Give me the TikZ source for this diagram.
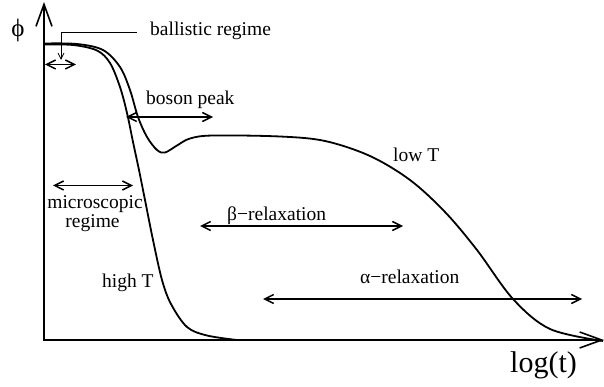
\documentclass[tikz,border=0pt]{standalone}
\usepackage{fontspec}
\setmainfont{Liberation Serif}
\usetikzlibrary{arrows.meta}
\begin{document}
\begin{tikzpicture}[x=1pt,y=-1pt,
  lbl/.style={font=\fontsize{19.5}{20}\selectfont, inner sep=0pt, anchor=base west},
  axisline/.style={line width=2pt, {Straight Barb[length=22pt,width=16pt,line width=1.6pt]}-{Straight Barb[length=22pt,width=16pt,line width=1.6pt]}},
  curve/.style={line width=1.8pt, line join=round},
  span/.style={line width=1.5pt, {Straight Barb[length=9pt,width=9pt]}-{Straight Barb[length=9pt,width=9pt]}},
  leader/.style={line width=0.8pt, -{Straight Barb[length=6pt,width=6pt]}}
]
\useasboundingbox (0,0) rectangle (604,387);
% axes
\coordinate (origin) at (44,340);
\coordinate (ytop) at (44,2);
\coordinate (xend) at (604,340);
\draw[axisline] (ytop) -- (origin) -- (xend);
% curves
\draw[curve] plot[smooth, tension=0.55] coordinates {(44,43.5) (77,44) (103,50) (120,67) (130,90) (138,117) (147,137) (157,150) (165,152.5) (177,145.5) (190,138.5) (213,135.5) (280,136.5) (325,141) (370,156) (410,180) (445,212) (477,250) (513,299) (550,329) (603,341)};
\draw[curve] plot[smooth, tension=0.55] coordinates {(44,44.5) (73,45) (97,50.5) (110,63) (120,87) (127,113) (133,142) (139,170) (145,200) (153,240) (162,280) (171,304) (187,327) (207,335.5) (237,340)};
% labels
\node[lbl, anchor=center, font=\fontsize{25}{25}\selectfont] (phi) at (18,30) {ϕ};
\node[lbl, font=\fontsize{30}{30}\selectfont] (logt) at (510,372) {log(t)};
\node[lbl] (ball) at (150,36) {ballistic regime};
\node[lbl] (boson) at (146,105) {boson peak};
\node[lbl, anchor=base] (micro1) at (95,208) {microscopic};
\node[lbl, anchor=base] (micro2) at (92.5,227.5) {regime};
\node[lbl] (high) at (102,287) {high T};
\node[lbl] (low) at (393,162) {low T};
\node[lbl] (beta) at (227,220) {β−relaxation};
\node[lbl] (alpha) at (360,283) {α−relaxation};
% arrows
\coordinate (lead0) at (137,32);
\coordinate (leadc) at (61,32);
\coordinate (lead1) at (61,60);
\draw[leader] (lead0) -- (leadc) -- (lead1);
\coordinate (b0) at (45,64.5);
\coordinate (b1) at (76,64.5);
\draw[span] (b0) -- (b1);
\coordinate (bp0) at (126,117);
\coordinate (bp1) at (213,117);
\draw[span] (bp0) -- (bp1);
\coordinate (m0) at (53,185.5);
\coordinate (m1) at (133,185.5);
\draw[span] (m0) -- (m1);
\coordinate (be0) at (200,226);
\coordinate (be1) at (403,226);
\draw[span] (be0) -- (be1);
\coordinate (a0) at (263,299);
\coordinate (a1) at (582,299);
\draw[span] (a0) -- (a1);
\end{tikzpicture}
\end{document}
